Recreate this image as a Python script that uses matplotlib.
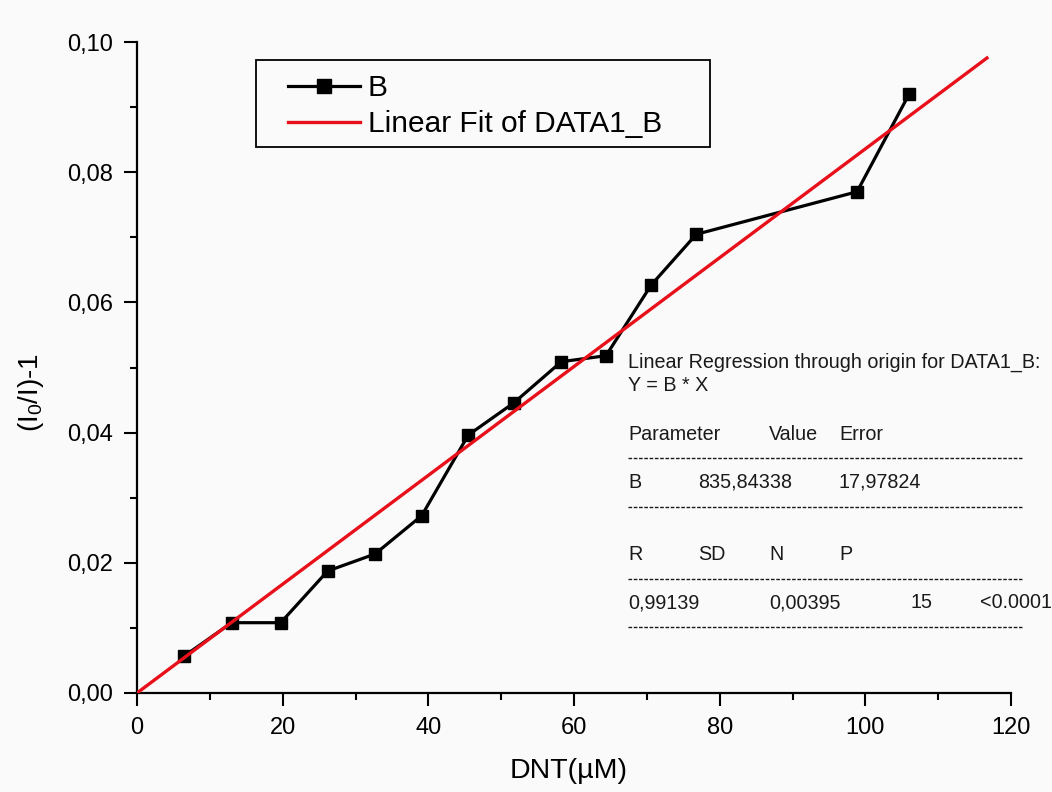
import matplotlib
matplotlib.use("Agg")
import matplotlib.pyplot as plt
from matplotlib.lines import Line2D
from matplotlib.patches import Rectangle
from matplotlib.ticker import MultipleLocator, FuncFormatter

plt.rcParams['font.family'] = ['Liberation Sans', 'DejaVu Sans']
plt.rcParams['mathtext.fontset'] = 'custom'
plt.rcParams['mathtext.rm'] = 'Liberation Sans'
plt.rcParams['mathtext.it'] = 'Liberation Sans'

# ---- data ----
dnt = [6.49, 13.0, 19.73, 26.18, 32.68, 39.09, 45.49, 51.76, 58.26, 64.39, 70.60, 76.79, 98.86, 106.0]
response = [0.00568, 0.0108, 0.0108, 0.01874, 0.02135, 0.02724, 0.03963, 0.04459,
            0.05089, 0.05181, 0.06267, 0.07046, 0.07700, 0.09197]
slope_B = 835.84338e-6  # per µM
fit_x = [0.0, 116.7]
fit_y = [slope_B * v for v in fit_x]

x_ticks = [0, 20, 40, 60, 80, 100, 120]
y_ticks = [0.00, 0.02, 0.04, 0.06, 0.08, 0.10]

W, H = 1052, 792
fig = plt.figure(figsize=(W / 100, H / 100), dpi=100, facecolor='#fafafa')
ax = fig.add_axes([137 / W, 1 - 693 / H, (1011 - 137) / W, (693 - 42) / H])
ax.set_facecolor('#fafafa')

ax.plot(dnt, response, color='black', lw=2.3, marker='s', ms=8.5,
        markerfacecolor='black', markeredgecolor='black', label='B', zorder=3)
ax.plot(fit_x, fit_y, color='#e8101a', lw=2.4, label='Linear Fit of DATA1_B', zorder=4)

ax.set_xlim(0, 120)
ax.set_ylim(0, 0.10)
ax.set_xticks(x_ticks)
ax.set_yticks(y_ticks)
ax.xaxis.set_minor_locator(MultipleLocator(10))
ax.yaxis.set_minor_locator(MultipleLocator(0.01))
ax.yaxis.set_major_formatter(FuncFormatter(lambda v, p: f"{v:.2f}".replace('.', ',')))
ax.xaxis.set_major_formatter(FuncFormatter(lambda v, p: f"{v:.0f}"))

for s in ['top', 'right']:
    ax.spines[s].set_visible(False)
for s in ['left', 'bottom']:
    ax.spines[s].set_linewidth(1.6)
ax.tick_params(which='major', direction='out', length=9.5, width=1.5, labelsize=17, pad=8, colors='black')
ax.tick_params(which='minor', direction='out', length=5, width=1.5)

ax.set_xlabel('DNT(µM)', fontsize=20.5)
ax.xaxis.set_label_coords(0.494, -0.1)
ax.set_ylabel(r'(I$_0$/I)-1', fontsize=20)
ax.yaxis.set_label_coords(-0.104, 0.461)

# legend frame drawn separately (inside the axes so it stacks under the legend)
ax.add_patch(Rectangle((256 / W, 1 - 147 / H), (710 - 256) / W, (147 - 60) / H,
                       transform=fig.transFigure, facecolor='#fafafa',
                       edgecolor='black', lw=1.3, zorder=5, clip_on=False))
leg = ax.legend(loc='upper left', bbox_to_anchor=(288 / W, 1 - 74 / H),
                bbox_transform=fig.transFigure, fontsize=21.5, frameon=False,
                handlelength=2.4, handletextpad=0.27, borderpad=0.0,
                labelspacing=0.27, borderaxespad=0, markerscale=1.25)
leg.set_zorder(6)

# ---- regression statistics block ----
tc = '#1a1a1a'
fs = 14.2
def ftext(px, py, s):
    fig.text(px / W, 1 - py / H, s, fontsize=fs, color=tc, ha='left', va='center')

def dashline(py):
    fig.add_artist(Line2D([628 / W, 1022 / W], [1 - py / H, 1 - py / H],
                          transform=fig.transFigure, color=tc, lw=1.0,
                          dashes=(2.6, 1.2)))

ftext(628, 362, 'Linear Regression through origin for DATA1_B:')
ftext(628, 385, 'Y = B * X')
ftext(628, 434, 'Parameter')
ftext(769, 434, 'Value')
ftext(839, 434, 'Error')
dashline(458)
ftext(628, 482, 'B')
ftext(698, 482, '835,84338')
ftext(839, 482, '17,97824')
dashline(507)
ftext(628, 554, 'R')
ftext(698, 554, 'SD')
ftext(769, 554, 'N')
ftext(839, 554, 'P')
dashline(579)
ftext(628, 603, '0,99139')
ftext(769, 603, '0,00395')
ftext(910, 603, '15')
ftext(980, 603, '<0.0001')
dashline(627)

fig.savefig('out.png', dpi=100, facecolor=fig.get_facecolor())
